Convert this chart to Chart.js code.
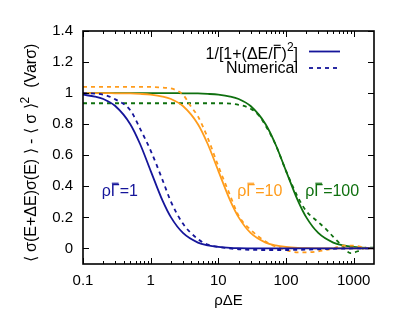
<!DOCTYPE html>
<html>
<head>
<meta charset="utf-8">
<script src="https://cdn.jsdelivr.net/npm/chart.js@4/dist/chart.umd.min.js"></script>
<style>
  html, body { margin: 0; padding: 0; background: #fff; }
</style>
</head>
<body>
<canvas id="corrChart" width="415" height="310"></canvas>
<script>
// x grid shared by the three Lorentzian curves
const xGrid = [0.1, 0.15, 0.2, 0.3, 0.5, 0.7, 1, 1.5, 2, 3, 5, 7, 10, 15, 20, 30, 50, 70, 100, 150, 200, 300, 500, 700, 1000, 1500, 2000];

// 1/[1+(dE/G)^2]
const lorentz1 = [0.990, 0.978, 0.962, 0.917, 0.800, 0.671, 0.500, 0.308, 0.200, 0.100, 0.038, 0.020, 0.010, 0.004, 0.002, 0.001, 0, 0, 0, 0, 0, 0, 0, 0, 0, 0, 0];
const lorentz10 = [1.000, 1.000, 1.000, 0.999, 0.998, 0.995, 0.990, 0.978, 0.962, 0.917, 0.800, 0.671, 0.500, 0.308, 0.200, 0.100, 0.038, 0.020, 0.010, 0.004, 0.002, 0.001, 0, 0, 0, 0, 0];
const lorentz100 = [1, 1, 1, 1, 1, 1, 1, 1, 1, 0.999, 0.998, 0.995, 0.990, 0.978, 0.962, 0.917, 0.800, 0.671, 0.500, 0.308, 0.200, 0.100, 0.038, 0.020, 0.010, 0.004, 0.002];

// numerical (dashed) curves
const numX1 = [0.1, 0.2, 0.3, 0.5, 0.7, 1, 1.5, 2, 3, 5, 7, 10, 20, 50, 100, 300, 1000, 2000];
const numY1 = [1.0, 0.99, 0.96, 0.89, 0.77, 0.63, 0.44, 0.30, 0.16, 0.06, 0.025, 0.01, -0.005, -0.01, -0.01, -0.005, 0, 0];

const numX10 = [0.1, 0.5, 1, 1.5, 2, 3, 4, 5, 7, 10, 15, 20, 30, 50, 70, 100, 150, 200, 300, 500, 700, 1000, 1500, 2000];
const numY10 = [1.04, 1.04, 1.04, 1.035, 1.03, 0.99, 0.91, 0.85, 0.71, 0.53, 0.34, 0.21, 0.12, 0.045, 0.012, -0.01, -0.025, -0.025, -0.018, 0, 0.018, 0.018, 0.005, 0];

const numX100 = [0.1, 1, 10, 20, 30, 40, 50, 70, 100, 150, 200, 300, 400, 500, 700, 900, 1200, 1500, 2000];
const numY100 = [0.935, 0.935, 0.935, 0.925, 0.90, 0.855, 0.79, 0.67, 0.50, 0.33, 0.24, 0.17, 0.12, 0.075, 0.01, -0.03, -0.015, 0.005, 0.005];

// axis ticks
const xTicks = [0.1, 1, 10, 100, 1000];
const yTicks = [0, 0.2, 0.4, 0.6, 0.8, 1, 1.2, 1.4];

const BLUE = '#15159a';
const ORANGE = '#ff9c1c';
const GREEN = '#0f700f';
const FONT = '"Liberation Sans", Arial, Helvetica, sans-serif';

Chart.defaults.font.family = FONT;
Chart.defaults.color = '#000';

// helper: pair x and y arrays into points
const pts = (xs, ys) => xs.map((x, i) => ({ x: x, y: ys[i] }));

const curve = (data, color, dashed) => ({
  data: data,
  borderColor: color,
  borderWidth: 1.8,
  borderDash: dashed ? [4, 4] : [],
  pointRadius: 0,
  fill: false,
  cubicInterpolationMode: 'monotone',
});

// draw text made of parts: {t, sup, bar}
function drawRich(ctx, parts, x, y, align, size) {
  const fontFor = (p) => (p.sup ? Math.round(size * 0.75) : size) + 'px ' + FONT;
  let total = 0;
  parts.forEach((p) => { ctx.font = fontFor(p); total += ctx.measureText(p.t).width; });
  let cx = align === 'right' ? x - total : align === 'center' ? x - total / 2 : x;
  ctx.textAlign = 'left';
  ctx.textBaseline = 'alphabetic';
  parts.forEach((p) => {
    ctx.font = fontFor(p);
    const w = ctx.measureText(p.t).width;
    ctx.fillText(p.t, cx, p.sup ? y - size * 0.45 : y);
    if (p.bar) {
      ctx.fillRect(cx + 1, y - size * 0.86, w - 2, Math.max(1, size * 0.07));
    }
    cx += w;
  });
}

// frame, inward ticks, legend, curve labels and y title (gnuplot look)
const decorations = {
  id: 'decorations',
  afterDatasetsDraw(chart) {
    const { ctx, chartArea: a, scales } = chart;
    const x = scales.x, y = scales.y;
    const seg = (x1, y1, x2, y2) => { ctx.beginPath(); ctx.moveTo(x1, y1); ctx.lineTo(x2, y2); ctx.stroke(); };
    ctx.save();
    ctx.strokeStyle = '#000';
    ctx.lineWidth = 1;
    yTicks.forEach((v) => {
      const py = Math.round(y.getPixelForValue(v)) + 0.5;
      seg(a.left, py, a.left + 6, py);
      seg(a.right - 6, py, a.right, py);
    });
    for (let d = -1; d <= 3; d++) {
      for (let m = 1; m <= 9; m++) {
        const v = m * Math.pow(10, d);
        if (v >= 2000) break;
        const px = Math.round(x.getPixelForValue(v)) + 0.5;
        const len = m === 1 ? 6 : 3;
        seg(px, a.bottom, px, a.bottom - len);
        seg(px, a.top, px, a.top + len);
      }
    }
    ctx.lineWidth = 1.6;
    ctx.strokeRect(a.left, a.top, a.right - a.left, a.bottom - a.top);

    // legend
    ctx.fillStyle = '#000';
    drawRich(ctx, [{ t: '1/[1+(\u0394E/' }, { t: '\u0393', bar: true }, { t: ')' }, { t: '2', sup: true }, { t: ']' }], 298, 58.5, 'right', 16);
    drawRich(ctx, [{ t: 'Numerical' }], 298, 73, 'right', 16);
    ctx.strokeStyle = BLUE;
    ctx.lineWidth = 1.8;
    seg(309, 51.5, 340, 51.5);
    ctx.setLineDash([4, 4]);
    seg(309, 68, 340, 68);
    ctx.setLineDash([]);

    // curve labels
    const labels = [
      ['1', BLUE, 0.35],
      ['10', ORANGE, 41],
      ['100', GREEN, 482],
    ];
    labels.forEach(([g, col, xv]) => {
      ctx.fillStyle = col;
      drawRich(ctx, [{ t: '\u03c1' }, { t: '\u0393', bar: true }, { t: '=' + g }], x.getPixelForValue(xv), y.getPixelForValue(0.335), 'center', 16);
    });

    // y axis title, rotated
    ctx.fillStyle = '#000';
    ctx.translate(36, 153);
    ctx.rotate(-Math.PI / 2);
    drawRich(ctx, [
      { t: '\u27e8 \u03c3(E+\u0394E)\u03c3(E) \u27e9 - \u27e8 \u03c3 \u27e9' },
      { t: '2', sup: true },
      { t: '  (Var\u03c3)' },
    ], 0, 0, 'center', 16);
    ctx.restore();
  },
};

new Chart(document.getElementById('corrChart'), {
  type: 'line',
  data: {
    datasets: [
      curve(pts(xGrid, lorentz1), BLUE, false),
      curve(pts(numX1, numY1), BLUE, true),
      curve(pts(xGrid, lorentz10), ORANGE, false),
      curve(pts(numX10, numY10), ORANGE, true),
      curve(pts(xGrid, lorentz100), GREEN, false),
      curve(pts(numX100, numY100), GREEN, true),
    ],
  },
  options: {
    responsive: false,
    animation: false,
    layout: { padding: { top: 31, right: 41, left: 0, bottom: 0 } },
    plugins: { legend: { display: false }, tooltip: { enabled: false } },
    scales: {
      x: {
        type: 'logarithmic',
        min: 0.1,
        max: 2000,
        grid: { display: false, drawTicks: false },
        border: { display: false },
        afterBuildTicks: (s) => { s.ticks = xTicks.map((v) => ({ value: v })); },
        afterFit: (s) => { s.height = 46; },
        ticks: {
          font: { size: 15 },
          padding: 8,
          maxRotation: 0,
          callback: (v) => String(v),
        },
        title: {
          display: true,
          text: '\u03c1\u0394E',
          font: { size: 15 },
          padding: { top: 0, bottom: 0 },
        },
      },
      y: {
        type: 'linear',
        min: -0.1,
        max: 1.4,
        grid: { display: false, drawTicks: false },
        border: { display: false },
        afterBuildTicks: (s) => { s.ticks = yTicks.map((v) => ({ value: v })); },
        afterFit: (s) => { s.width = 83; },
        ticks: {
          font: { size: 15 },
          padding: 10,
          callback: (v) => String(v),
        },
      },
    },
  },
  plugins: [decorations],
});
</script>
</body>
</html>
